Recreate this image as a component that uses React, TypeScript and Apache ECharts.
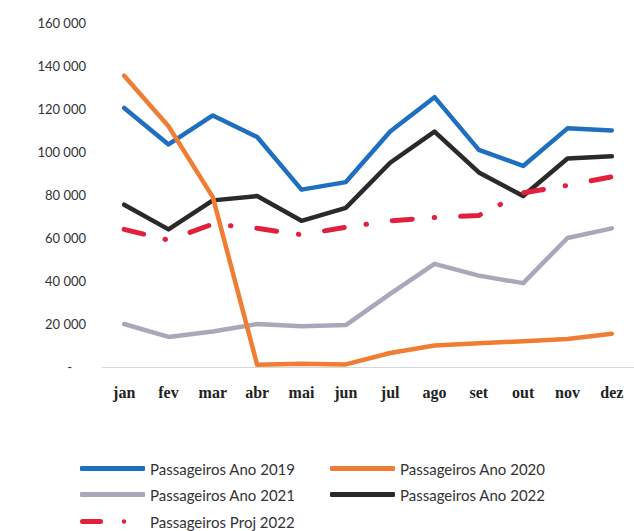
import React, { useEffect, useRef } from "react";
import * as echarts from "echarts";

const months = ["jan", "fev", "mar", "abr", "mai", "jun", "jul", "ago", "set", "out", "nov", "dez"];
const pax2019 = [120500, 103500, 117000, 107000, 82500, 86000, 109500, 125500, 101000, 93500, 111000, 110000];
const pax2020 = [135500, 112000, 79000, 1000, 1500, 1200, 6500, 10000, 11000, 12000, 13000, 15500];
const pax2021 = [20000, 14000, 16500, 20000, 19000, 19500, 34000, 48000, 42500, 39000, 60000, 64500];
const pax2022 = [75500, 64000, 77500, 79500, 68000, 74000, 95000, 109500, 90500, 79500, 97000, 98000];
const proj2022 = [64000, 59000, 66500, 64500, 61500, 65000, 68000, 69500, 70500, 81000, 84500, 88500];

const yTicks = { min: 0, max: 160000, interval: 20000 };

const names = {
  a: "Passageiros Ano 2019",
  b: "Passageiros Ano 2020",
  c: "Passageiros Ano 2021",
  d: "Passageiros Ano 2022",
  e: "Passageiros Proj 2022",
};

const colors = {
  a: "#1e6fbf",
  b: "#ef7d33",
  c: "#a7a8b8",
  d: "#2a2a2a",
  e: "#e0203c",
};

export default function App() {
  const ref = useRef<HTMLDivElement>(null);
  useEffect(() => {
    if (!ref.current) return;
    const chart = echarts.init(ref.current, null, { renderer: "svg" });
    const lineFont = "Lato, 'Open Sans', sans-serif";
    const mkSeries = (key: string, data: number[], z: number, dash?: number[]) => ({
      name: (names as any)[key],
      type: "line",
      data,
      symbol: "none",
      z,
      lineStyle: {
        color: (colors as any)[key],
        width: dash ? 5 : 4.5,
        cap: "round",
        join: "round",
        type: dash ? dash : "solid",
      },
      itemStyle: { color: (colors as any)[key] },
    });
    const mkLegend = (key: string, left: number, top: number, icon: string) => ({
      data: [(names as any)[key]],
      left,
      top,
      itemWidth: 65,
      itemHeight: 5,
      itemGap: 0,
      padding: 0,
      icon,
      itemStyle: { color: (colors as any)[key], borderWidth: 0 },
      textStyle: { fontFamily: lineFont, fontSize: 15, color: "#333", padding: [0, 0, 0, 0] },
      selectedMode: false,
    });
    const projIcon = "path://M2.5,0H20.5A2.5,2.5,0,0,1,20.5,5H2.5A2.5,2.5,0,0,1,2.5,0Z M44,0.3A2.2,2.2,0,1,1,44,4.7A2.2,2.2,0,1,1,44,0.3Z M64.9,2.4H65V2.6H64.9Z";
    chart.setOption({
      animation: false,
      backgroundColor: "#fff",
      grid: { left: 102, top: 23, width: 536, height: 344, containLabel: false },
      xAxis: {
        type: "category",
        data: months,
        boundaryGap: true,
        axisTick: { show: false },
        axisLine: { lineStyle: { color: "#d6d6d6", width: 1 } },
        axisLabel: {
          margin: 17,
          color: "#222",
          fontFamily: "'Liberation Serif', serif",
          fontWeight: "bold",
          fontSize: 16,
        },
        splitLine: { show: false },
      },
      yAxis: {
        type: "value",
        min: yTicks.min,
        max: yTicks.max,
        interval: yTicks.interval,
        axisLine: { show: false },
        axisTick: { show: false },
        splitLine: { show: false },
        axisLabel: {
          margin: 16,
          color: "#333",
          fontFamily: lineFont,
          fontSize: 13,
          formatter: (v: number) =>
            v === 0 ? "{d|-}" : String(v).replace(/\B(?=(\d{3})+(?!\d))/g, " "),
          rich: { d: { padding: [0, 14, 0, 0], fontSize: 13, color: "#333", fontFamily: lineFont } },
        },
      },
      legend: [
        mkLegend("a", 80, 461, "roundRect"),
        mkLegend("b", 330, 461, "roundRect"),
        mkLegend("c", 80, 487, "roundRect"),
        mkLegend("d", 330, 487, "roundRect"),
        mkLegend("e", 80, 514, projIcon),
      ],
      series: [
        mkSeries("a", pax2019, 2),
        mkSeries("c", pax2021, 2),
        mkSeries("d", pax2022, 3),
        mkSeries("b", pax2020, 4),
        mkSeries("e", proj2022, 5, [20, 22, 0.5, 26]),
      ],
    });
    return () => chart.dispose();
  }, []);
  return (
    <div
      ref={ref}
      style={{ position: "fixed", left: 0, top: 0, width: 634, height: 531 }}
    />
  );
}
